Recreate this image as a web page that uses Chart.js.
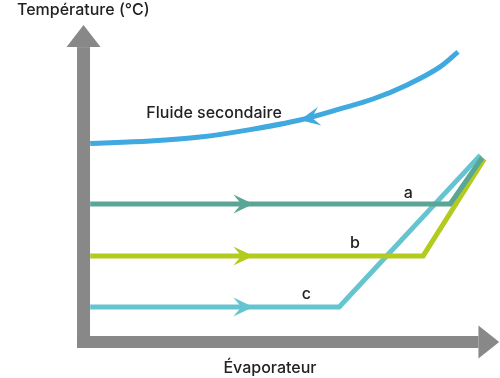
<!DOCTYPE html>
<html>
<head>
<meta charset="utf-8">
<script src="https://cdn.jsdelivr.net/npm/chart.js@4"></script>
<style>
  html, body { margin: 0; padding: 0; background: #fff; }
  #wrap { width: 500px; height: 378px; }
</style>
</head>
<body>
<div id="wrap"><canvas id="chart" width="500" height="378"></canvas></div>
<script>
// Position along the evaporator (0-100) and temperature (arbitrary units)
const secondaryX = [0, 15.3, 28, 40.8, 53.5, 63.7, 72.1, 80.8, 89.2, 93.8];
const secondaryT = [66.2, 67, 68.3, 70.8, 74, 77.7, 81, 85.7, 91.7, 96.7];

const aX = [0, 91.8, 100];
const aT = [46, 46, 61.5];
const bX = [0, 84.9, 100.5];
const bT = [28.7, 28.7, 61];
const cX = [0, 63.5, 99.5];
const cT = [11.7, 11.7, 62.3];

const seriesNames = ['Fluide secondaire', 'a', 'b', 'c'];

function pts(xs, ys) {
  return xs.map((x, i) => ({ x: x, y: ys[i] }));
}

const colors = ['#3fa9e0', '#5ba596', '#b3cb1f', '#66c4d0'];
const axisColor = '#888888';
const textColor = '#222222';
const font = '"Inter", "Roboto", sans-serif';

// where the flow arrows and labels sit (data units)
const arrowAt = [53.5, 41.6, 41.6, 41.6];
const arrowDir = [-1, 1, 1, 1];
const labelPos = [[31.6, 76.3], [81.1, 49.7], [67.5, 33], [55.1, 16]];

function drawHead(ctx, x, y, ang, len, half, color) {
  ctx.save();
  ctx.translate(x, y);
  ctx.rotate(ang);
  ctx.fillStyle = color;
  ctx.beginPath();
  ctx.moveTo(0, 0);
  ctx.lineTo(-len, -half);
  ctx.lineTo(-len * 0.6, 0);
  ctx.lineTo(-len, half);
  ctx.closePath();
  ctx.fill();
  ctx.restore();
}

const decorations = {
  id: 'decorations',
  beforeDatasetsDraw(chart) {
    const ctx = chart.ctx;
    const xs = chart.scales.x, ys = chart.scales.y;
    const ox = xs.getPixelForValue(-1.7);
    const oy = ys.getPixelForValue(0);
    ctx.save();
    ctx.fillStyle = axisColor;
    // vertical axis
    const topBase = ys.getPixelForValue(98.3);
    const topTip = ys.getPixelForValue(105.7);
    ctx.fillRect(ox - 6.5, topBase, 13, oy + 6 - topBase);
    ctx.beginPath();
    ctx.moveTo(ox - 17, topBase);
    ctx.lineTo(ox, topTip);
    ctx.lineTo(ox + 17, topBase);
    ctx.closePath();
    ctx.fill();
    // horizontal axis
    const rBase = xs.getPixelForValue(99);
    const rTip = xs.getPixelForValue(104.3);
    ctx.fillRect(ox - 6.5, oy - 6, rBase - ox + 6.5, 12);
    ctx.beginPath();
    ctx.moveTo(rBase, oy - 16.5);
    ctx.lineTo(rTip, oy);
    ctx.lineTo(rBase, oy + 16.5);
    ctx.closePath();
    ctx.fill();
    ctx.restore();
  },
  afterDatasetsDraw(chart) {
    const ctx = chart.ctx;
    const xs = chart.scales.x, ys = chart.scales.y;
    chart.data.datasets.forEach((ds, i) => {
      const d = ds.data;
      const ax = arrowAt[i];
      let k = 0;
      while (k < d.length - 2 && d[k + 1].x < ax) k++;
      const p0 = d[k], p1 = d[k + 1];
      const t = (ax - p0.x) / (p1.x - p0.x);
      const ay = p0.y + t * (p1.y - p0.y);
      const px = xs.getPixelForValue(ax), py = ys.getPixelForValue(ay);
      const dx = xs.getPixelForValue(p1.x) - xs.getPixelForValue(p0.x);
      const dy = ys.getPixelForValue(p1.y) - ys.getPixelForValue(p0.y);
      let ang = Math.atan2(dy, dx);
      if (arrowDir[i] < 0) ang += Math.PI;
      drawHead(ctx, px, py, ang, 20, 9.5, ds.borderColor);

      ctx.save();
      ctx.fillStyle = textColor;
      ctx.font = '500 16px ' + font;
      ctx.textAlign = 'center';
      ctx.textBaseline = 'middle';
      ctx.fillText(seriesNames[i], xs.getPixelForValue(labelPos[i][0]), ys.getPixelForValue(labelPos[i][1]));
      ctx.restore();
    });
    ctx.save();
    ctx.fillStyle = textColor;
    ctx.font = '500 16px ' + font;
    ctx.textBaseline = 'middle';
    ctx.textAlign = 'left';
    ctx.fillText('Température (°C)', 17, 10);
    ctx.textAlign = 'center';
    ctx.fillText('Évaporateur', 270, 368);
    ctx.restore();
  }
};

new Chart(document.getElementById('chart'), {
  type: 'line',
  data: {
    datasets: [
      { label: seriesNames[0], data: pts(secondaryX, secondaryT), borderColor: colors[0], tension: 0.4, cubicInterpolationMode: 'monotone' },
      { label: seriesNames[1], data: pts(aX, aT), borderColor: colors[1] },
      { label: seriesNames[2], data: pts(bX, bT), borderColor: colors[2] },
      { label: seriesNames[3], data: pts(cX, cT), borderColor: colors[3] }
    ]
  },
  options: {
    responsive: false,
    animation: false,
    events: [],
    layout: { padding: 0 },
    elements: {
      point: { radius: 0 },
      line: { borderWidth: 5, fill: false, borderJoinStyle: 'miter', borderCapStyle: 'butt' }
    },
    scales: {
      x: { type: 'linear', min: -23, max: 104.5, display: false },
      y: { type: 'linear', min: -12, max: 114, display: false }
    },
    plugins: {
      legend: { display: false },
      tooltip: { enabled: false }
    }
  },
  plugins: [decorations]
});
</script>
</body>
</html>
